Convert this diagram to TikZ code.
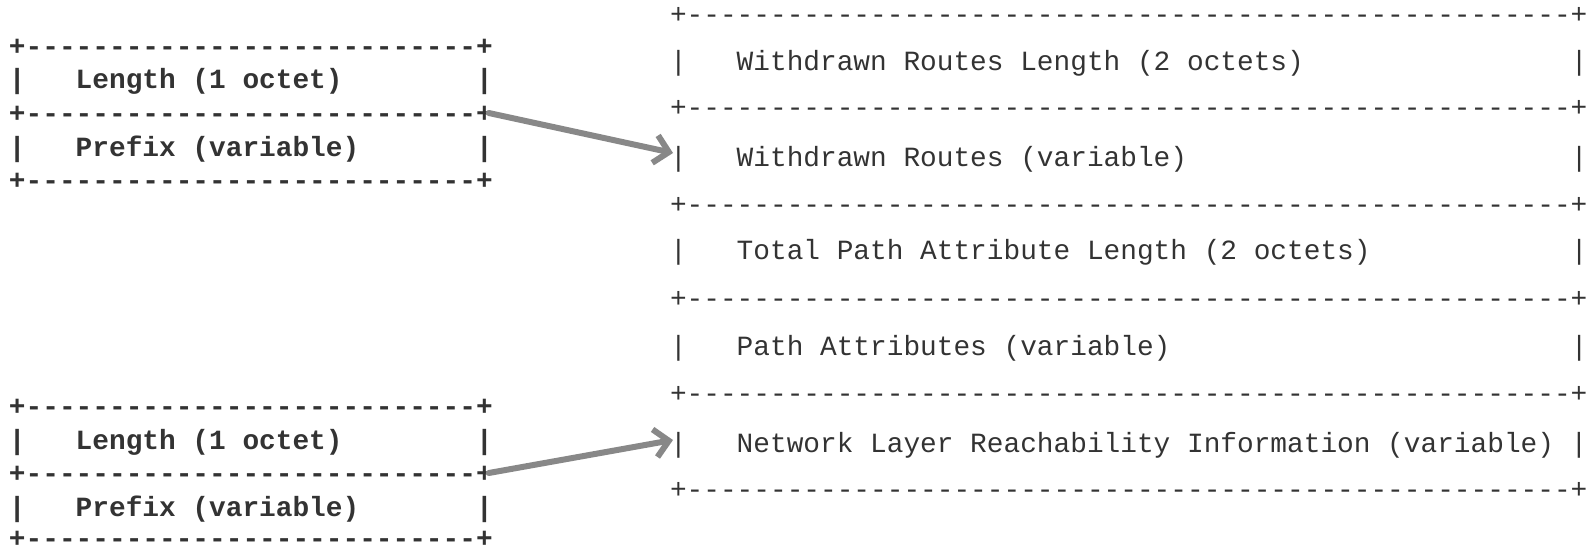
\documentclass[tikz,border=0pt]{standalone}
\usepackage{fontspec}
\setmonofont{Liberation Mono}
\usetikzlibrary{arrows.meta}
\definecolor{txt}{HTML}{333333}
\definecolor{arrowgray}{HTML}{888888}
\newcommand\gapw[1]{\hspace*{#1\fontcharwd\font`\x}}
\frenchspacing
\begin{document}
\begin{tikzpicture}[x=1pt,y=-1pt,
  row/.style={anchor=mid west,inner sep=0pt,outer sep=0pt,text=txt,
    font=\ttfamily\fontsize{27.8}{30}\selectfont},
  boldrow/.style={row,font=\ttfamily\bfseries\fontsize{27.8}{30}\selectfont},
  link/.style={draw=arrowgray,line width=6pt,line cap=round,
    -{Straight Barb[length=14pt,width=28pt]}}]
\useasboundingbox (0,0) rectangle (1596,548);
% left top box
\node[boldrow] (lt1) at (9,53.5)  {+---------------------------+};
\node[boldrow] (lt2) at (9,86.5)  {|\gapw{3}Length (1 octet)\gapw{8}|};
\node[boldrow] (lt3) at (9,120.5) {+---------------------------+};
\node[boldrow] (lt4) at (9,154.5) {|\gapw{3}Prefix (variable)\gapw{7}|};
\node[boldrow] (lt5) at (9,187.5) {+---------------------------+};
% left bottom box
\node[boldrow] (lb1) at (9,413.5) {+---------------------------+};
\node[boldrow] (lb2) at (9,447.5) {|\gapw{3}Length (1 octet)\gapw{8}|};
\node[boldrow] (lb3) at (9,480.5) {+---------------------------+};
\node[boldrow] (lb4) at (9,514) {|\gapw{3}Prefix (variable)\gapw{7}|};
\node[boldrow] (lb5) at (9,545.5) {+---------------------------+};
% right message
\node[row] (r1)  at (670,21.5)  {+-----------------------------------------------------+};
\node[row] (r2)  at (670,68.5)  {|\gapw{3}Withdrawn Routes Length (2 octets)\gapw{16}|};
\node[row] (r3)  at (670,114.5) {+-----------------------------------------------------+};
\node[row] (r4)  at (670,164.5) {|\gapw{3}Withdrawn Routes (variable)\gapw{23}|};
\node[row] (r5)  at (670,211.5) {+-----------------------------------------------------+};
\node[row] (r6)  at (670,257.5) {|\gapw{3}Total Path Attribute Length (2 octets)\gapw{12}|};
\node[row] (r7)  at (670,305.5) {+-----------------------------------------------------+};
\node[row] (r8)  at (670,353.5) {|\gapw{3}Path Attributes (variable)\gapw{24}|};
\node[row] (r9)  at (670,400.5) {+-----------------------------------------------------+};
\node[row] (r10) at (670,450.5) {|\gapw{3}Network Layer Reachability Information (variable)\gapw{1}|};
\node[row] (r11) at (670,496.5) {+-----------------------------------------------------+};
% arrows
\draw[link] ([xshift=-4pt,yshift=7.5pt]lt3.mid east) -- ([xshift=3pt,yshift=11.5pt]r4.mid west);
\draw[link] ([xshift=-4pt,yshift=7.5pt]lb3.mid east) -- ([xshift=3pt,yshift=10.5pt]r10.mid west);
\end{tikzpicture}
\end{document}
